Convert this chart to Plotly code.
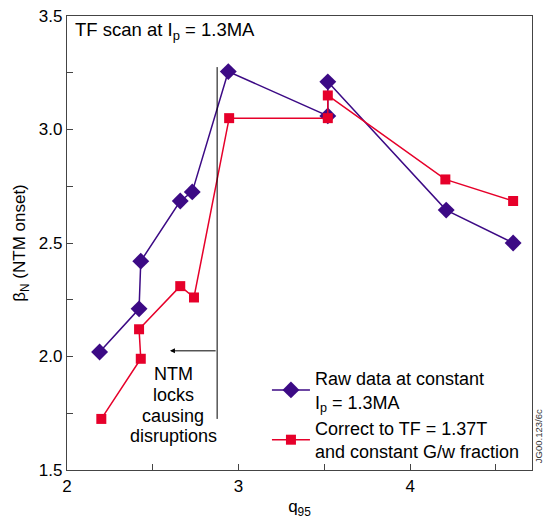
import plotly.graph_objects as go

# Data
raw_q95 = [2.19, 2.42, 2.43, 2.66, 2.73, 2.94, 3.52, 3.52, 4.21, 4.60]
raw_beta = [2.02, 2.21, 2.42, 2.685, 2.725, 3.255, 3.06, 3.21, 2.645, 2.50]
cor_q95 = [2.20, 2.43, 2.42, 2.66, 2.74, 2.945, 3.52, 3.52, 4.205, 4.60]
cor_beta = [1.725, 1.99, 2.12, 2.31, 2.26, 3.05, 3.05, 3.15, 2.78, 2.685]

names = ["Raw data at constant<br>I<sub>p</sub> = 1.3MA",
         "Correct to TF = 1.37T<br>and constant G/w fraction"]
x_ticks = [2, 2.5, 3, 3.5, 4, 4.5]
x_labels = ["2", "", "3", "", "4", ""]
y_ticks = [1.5, 1.75, 2.0, 2.25, 2.5, 2.75, 3.0, 3.25, 3.5]
y_labels = ["1.5", "", "2.0", "", "2.5", "", "3.0", "", "3.5"]

note_lines = ["NTM", "locks", "causing", "disruptions"]
note_y = [1.921, 1.830, 1.740, 1.648]
note_x = 2.62

# Annotation geometry (data coordinates)
lock_q95 = 2.875
lock_top, lock_bottom = 3.275, 1.725
arrow_y, arrow_end = 2.025, 2.6

BLUE = "#3c0a85"
RED = "#e6002a"
FONT = "Liberation Sans, Arial, sans-serif"

fig = go.Figure()
fig.add_trace(go.Scatter(x=raw_q95, y=raw_beta, mode="lines+markers", name=names[0],
                         line=dict(color=BLUE, width=1.5),
                         marker=dict(symbol="diamond", size=13, color=BLUE),
                         legendgroup="a"))
fig.add_trace(go.Scatter(x=cor_q95, y=cor_beta, mode="lines+markers", name=names[1],
                         line=dict(color=RED, width=1.5),
                         marker=dict(symbol="square", size=10, color=RED),
                         legendgroup="b"))

# vertical line + arrow
fig.add_shape(type="line", x0=lock_q95, x1=lock_q95, y0=lock_bottom, y1=lock_top,
              line=dict(color="black", width=1))
fig.add_annotation(x=arrow_end, y=arrow_y, ax=lock_q95, ay=arrow_y, xref="x", yref="y",
                   axref="x", ayref="y", text="", showarrow=True, arrowhead=2,
                   arrowsize=1, arrowwidth=1, arrowcolor="black")
for txt, yy in zip(note_lines, note_y):
    fig.add_annotation(x=note_x, y=yy, xref="x", yref="y", yanchor="middle",
                       text=txt, showarrow=False,
                       font=dict(size=18, color="black", family=FONT))
fig.add_annotation(x=0.012, y=0.997, xref="paper", yref="paper", xanchor="left", yanchor="top",
                   text="TF scan at I<sub>p</sub> = 1.3MA", showarrow=False,
                   font=dict(size=18.5, color="black", family=FONT))
fig.add_annotation(x=1.0155, y=0.075, xref="paper", yref="paper", xanchor="center", yanchor="middle",
                   text="JG00.123/6c", textangle=-90, showarrow=False,
                   font=dict(size=9.5, color="#333333", family=FONT))

axis_common = dict(showline=True, linecolor="#444444", linewidth=1.2, mirror=True,
                   ticks="inside", tickcolor="#444444", ticklen=6, showgrid=False,
                   zeroline=False, automargin=False,
                   tickfont=dict(size=17, color="black", family=FONT))
fig.update_xaxes(range=[2, 4.71], tickvals=x_ticks, ticktext=x_labels,
                 title=dict(text="q<sub>95</sub>", font=dict(size=17, color="black", family=FONT),
                            standoff=10),
                 **axis_common)
fig.update_yaxes(range=[1.5, 3.5], tickvals=y_ticks, ticktext=y_labels,
                 title=dict(text="β<sub>N</sub> (NTM onset)", font=dict(size=17, color="black", family=FONT),
                            standoff=8),
                 **axis_common)

fig.update_layout(width=544, height=519,
                  margin=dict(l=67, r=12, t=16, b=49),
                  plot_bgcolor="white", paper_bgcolor="white",
                  font=dict(family=FONT, color="black"),
                  legend=dict(x=0.43, y=0.0, xanchor="left", yanchor="bottom",
                              bgcolor="rgba(0,0,0,0)", font=dict(size=18, family=FONT),
                              tracegroupgap=0, itemwidth=38),
                  showlegend=True)

fig.write_html("out.html")
